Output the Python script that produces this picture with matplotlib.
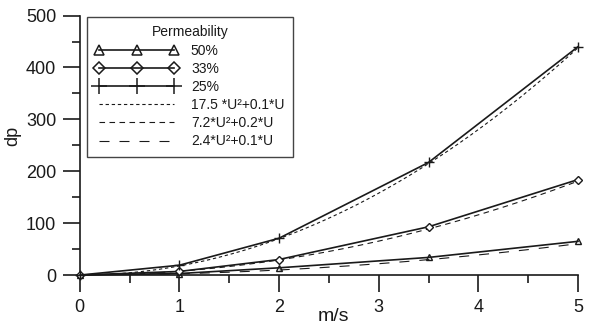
import numpy as np
import matplotlib
matplotlib.use("Agg")
import matplotlib.pyplot as plt
from matplotlib.lines import Line2D
from matplotlib.ticker import MultipleLocator

plt.rcParams["font.family"] = ["Liberation Sans", "DejaVu Sans"]

# Measured pressure drop vs. velocity for three screen permeabilities
speed = [0, 1, 2, 3.5, 5]
dp_50 = [0, 3, 14, 34, 65]
dp_33 = [0, 7, 30, 93, 184]
dp_25 = [0, 19, 71, 217, 440]

series_labels = ["50%", "33%", "25%"]

# Quadratic fits dp = a*U^2 + b*U
fit_a = [17.5, 7.2, 2.4]
fit_b = [0.1, 0.2, 0.1]
fit_labels = ["17.5 *U\u00b2+0.1*U", "7.2*U\u00b2+0.2*U", "2.4*U\u00b2+0.1*U"]

ink = "#1a1a1a"

fig = plt.figure(figsize=(5.91, 3.24), dpi=100)
ax = fig.add_axes([0.135, 0.151, 0.843, 0.801])

line_kw = dict(color=ink, lw=1.2, clip_on=False, zorder=3)
markers = [("^", 4.5, "none"), ("D", 4.5, "white"), ("+", 7, "none")]
for ys, (m, ms, mfc) in zip([dp_50, dp_33, dp_25], markers):
    ax.plot(speed, ys, marker=m, ms=ms, mfc=mfc, mew=1.0, **line_kw)

u = np.linspace(0, 5, 200)
dash_styles = [(0, (3, 2.5)), (0, (5, 4)), (0, (9, 9))]
fit_handles = []
for a, b, lab, ds in zip(fit_a, fit_b, fit_labels, dash_styles):
    h, = ax.plot(u, a * u**2 + b * u, color=ink, lw=0.8, ls=ds, label=lab,
                 zorder=2)
    fit_handles.append(h)

# Legend keys use somewhat larger markers than the plotted points
legend_markers = [("^", 6.5, "none"), ("D", 6.5, "none"), ("+", 12, "none")]
series_handles = [
    Line2D([], [], color=ink, lw=1.2, marker=m, ms=ms, mfc=mfc, mew=1.1,
           label=lab)
    for (m, ms, mfc), lab in zip(legend_markers, series_labels)
]

ax.set_xlim(0, 5)
ax.set_ylim(0, 500)
ax.xaxis.set_major_locator(MultipleLocator(1))
ax.xaxis.set_minor_locator(MultipleLocator(0.5))
ax.yaxis.set_major_locator(MultipleLocator(100))
ax.yaxis.set_minor_locator(MultipleLocator(50))

for side in ("top", "right"):
    ax.spines[side].set_visible(False)
for side in ("left", "bottom"):
    ax.spines[side].set_color(ink)
    ax.spines[side].set_linewidth(1.2)

ax.tick_params(axis="both", which="major", direction="out", length=12,
               width=1.2, color=ink, labelsize=13, labelcolor=ink, pad=5)
ax.tick_params(axis="both", which="minor", direction="out", length=6,
               width=1.2, color=ink)

ax.set_ylabel("dp", fontsize=13, color=ink)
ax.yaxis.set_label_coords(-0.118, 0.535)
ax.set_xlabel("m/s", fontsize=14, color=ink)
ax.xaxis.set_label_coords(0.51, -0.125)

leg = ax.legend(handles=series_handles + fit_handles,
                title="Permeability", loc="upper left",
                bbox_to_anchor=(0.014, 0.994), fontsize=10,
                title_fontsize=10, numpoints=3, handlelength=6.0,
                handletextpad=0.9, labelspacing=0.3, borderpad=0.6,
                borderaxespad=0, fancybox=False, framealpha=1,
                edgecolor="#444444")
leg.get_frame().set_linewidth(1.0)
for t in leg.get_texts():
    t.set_color(ink)
leg.get_title().set_color(ink)

fig.savefig("out.png", dpi=100)
